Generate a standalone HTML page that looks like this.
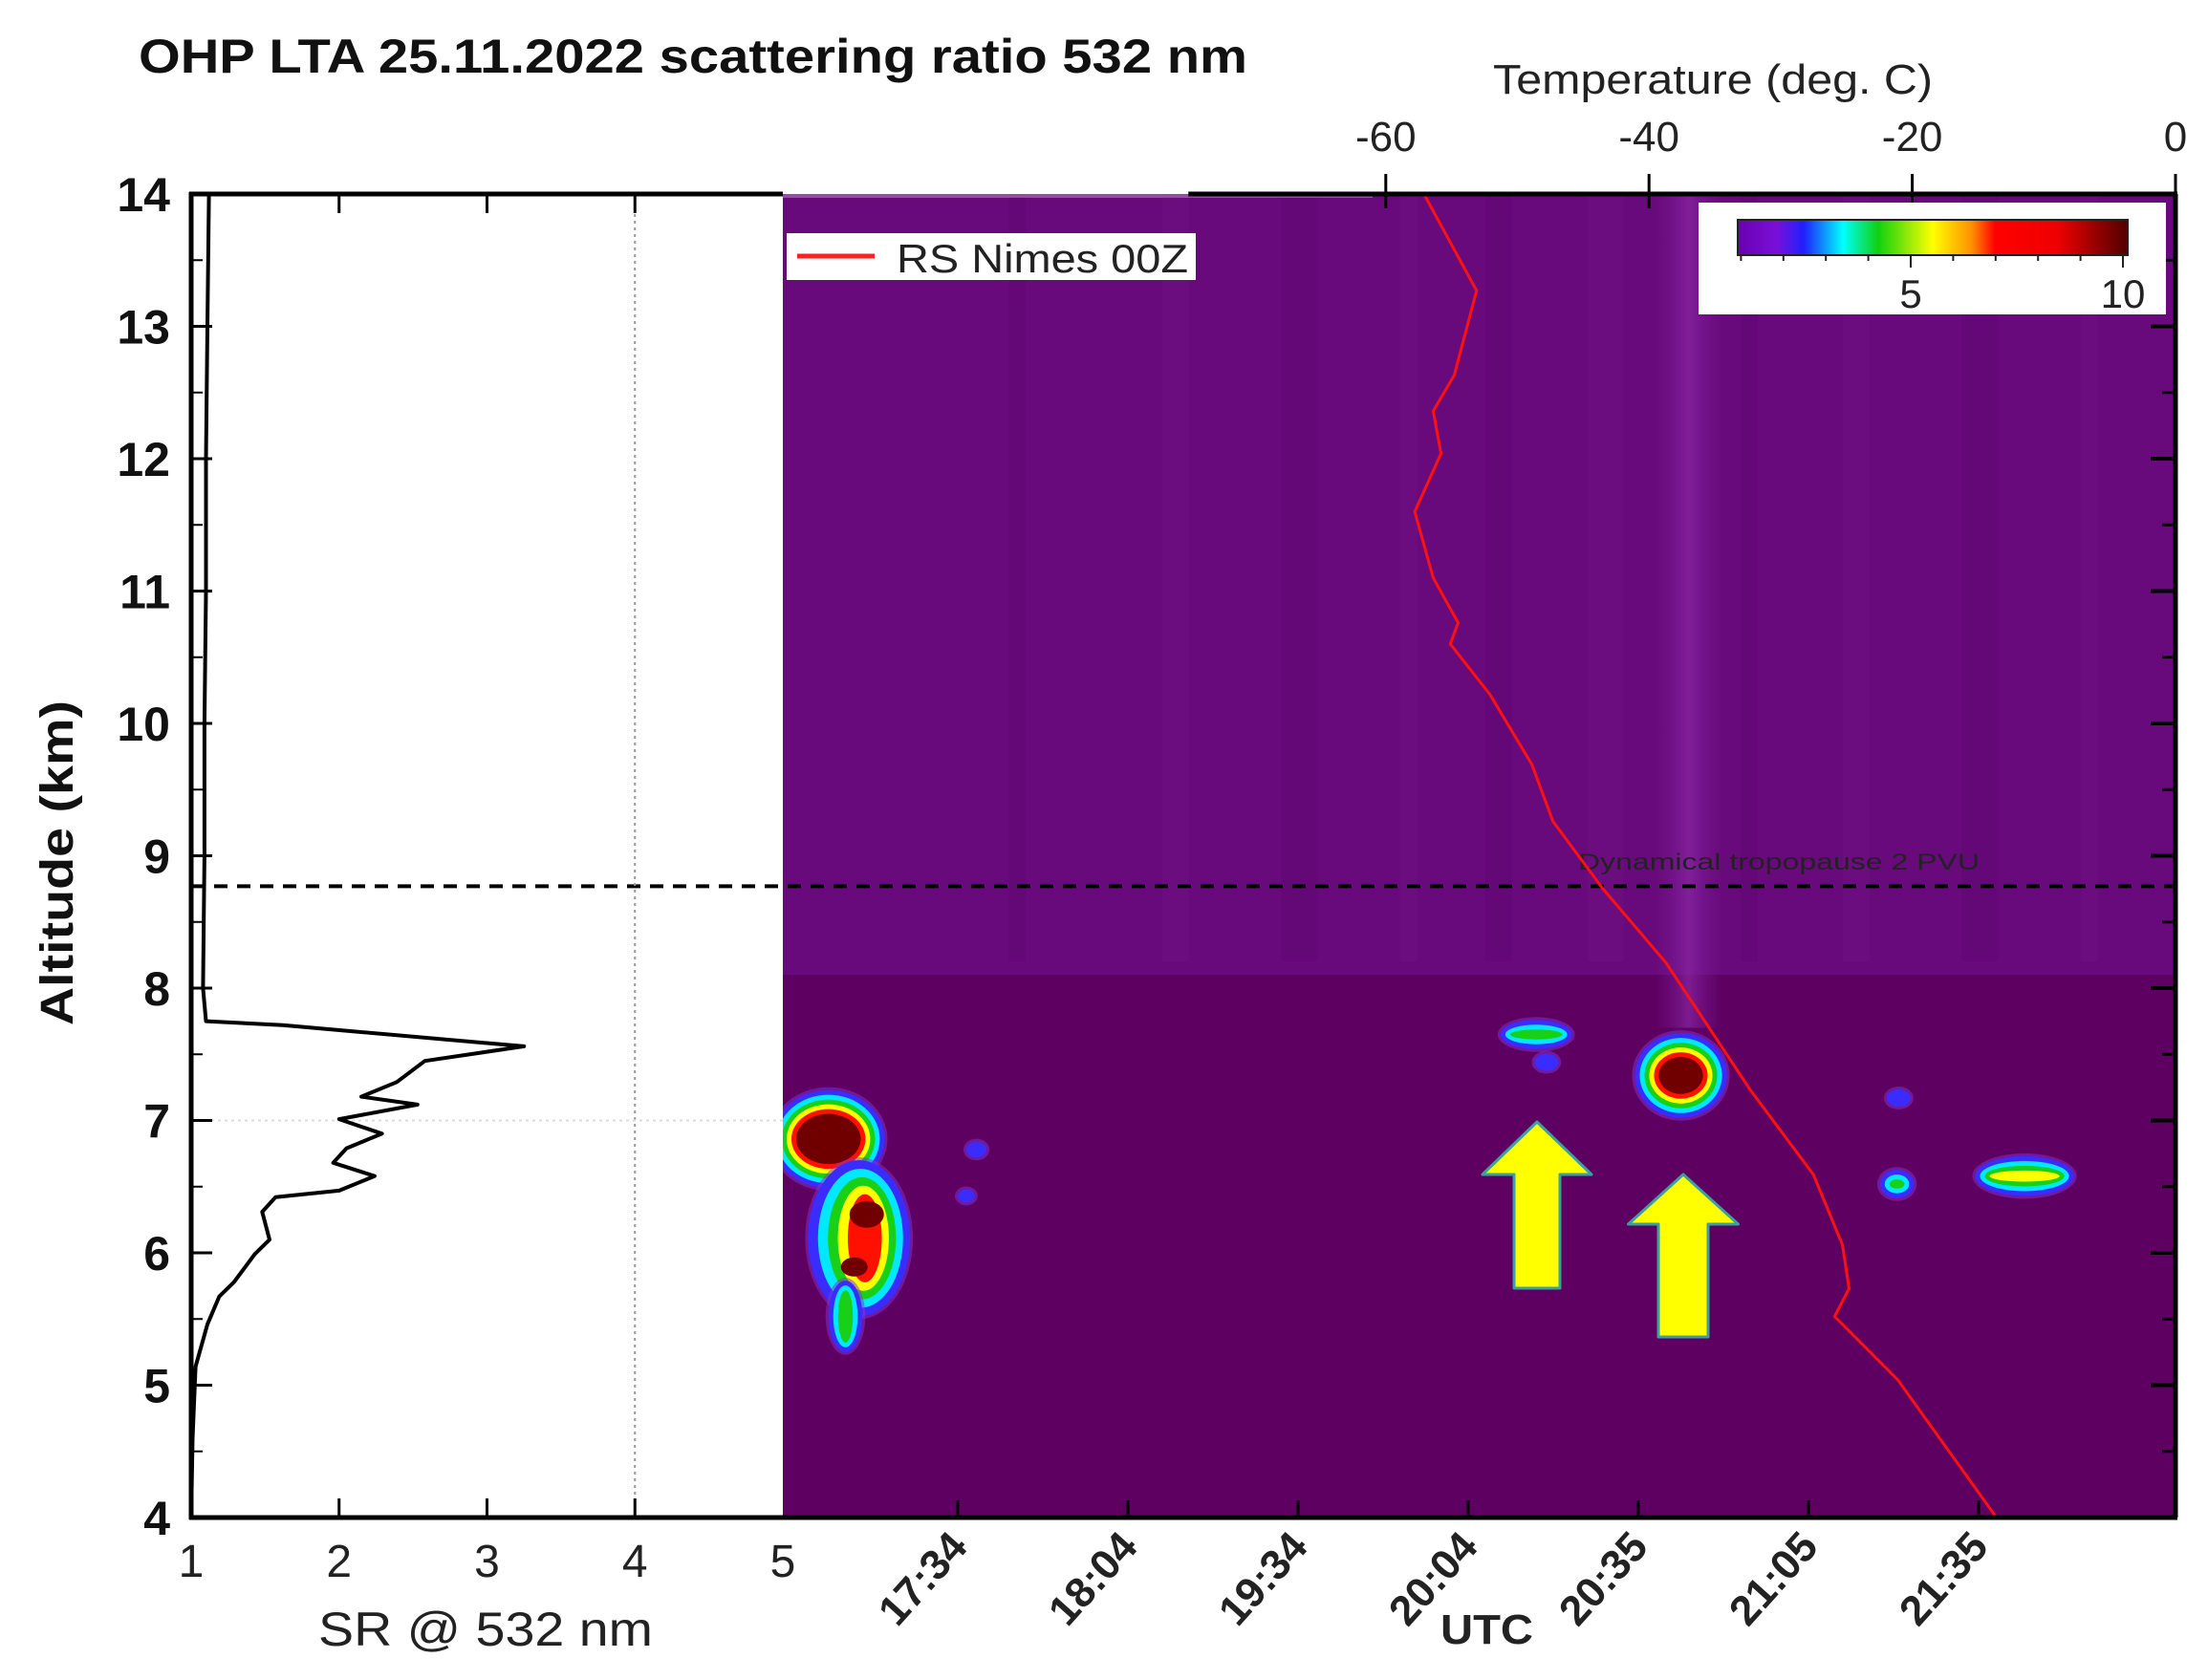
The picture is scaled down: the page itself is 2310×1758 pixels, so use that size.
<!DOCTYPE html>
<html><head><meta charset="utf-8"><title>OHP LTA scattering ratio</title>
<style>
html,body{margin:0;padding:0;background:#fff;}
svg{display:block;font-family:"Liberation Sans",Arial,sans-serif;}
</style></head>
<body>
<svg id="chart" width="2310" height="1758" viewBox="0 0 2310 1758" xmlns="http://www.w3.org/2000/svg">
<defs>
<linearGradient id="cbar" x1="0" x2="1" y1="0" y2="0">
<stop offset="0" stop-color="#6a00b0"/><stop offset="0.1" stop-color="#7a10d8"/>
<stop offset="0.17" stop-color="#2020ff"/><stop offset="0.27" stop-color="#00ffff"/>
<stop offset="0.36" stop-color="#10d010"/><stop offset="0.5" stop-color="#ffff00"/>
<stop offset="0.6" stop-color="#ff9000"/><stop offset="0.66" stop-color="#ff0000"/>
<stop offset="0.82" stop-color="#ee0000"/><stop offset="1" stop-color="#500000"/>
</linearGradient>
<linearGradient id="stripe" x1="0" x2="1"><stop offset="0" stop-color="#7c1a95" stop-opacity="0"/><stop offset="0.5" stop-color="#8a28a6" stop-opacity="0.7"/><stop offset="1" stop-color="#7c1a95" stop-opacity="0"/></linearGradient>
</defs>
<g id="root"></g>
</svg>
<script>
// ---- data ----
const altTicks = [4,5,6,7,8,9,10,11,12,13,14];
const srTicks = [1,2,3,4,5];
const tempTicks = [-60,-40,-20,0];
const timeLabels = ["17:34","18:04","19:34","20:04","20:35","21:05","21:35"];
const cbarTicks = [1,2,3,4,5,6,7,8,9,10];
const cbarLabels = [5,10];
const tropopauseKm = 8.77;
// SR profile: altitude (km) and scattering ratio
const srAlt = [14,13,12,11,10,9,8,7.75,7.72,7.56,7.45,7.29,7.18,7.12,7.01,6.9,6.79,6.68,6.58,6.47,6.42,6.31,6.1,5.99,5.78,5.67,5.46,5.14,4.6,4.0];
const srVal = [1.12,1.11,1.1,1.1,1.09,1.09,1.08,1.1,1.62,3.25,2.58,2.39,2.15,2.53,2.0,2.29,2.05,1.96,2.24,2.0,1.57,1.48,1.53,1.43,1.29,1.19,1.11,1.03,1.01,1.0];
// Radiosonde temperature profile
const tAlt = [14,13.27,12.63,12.36,12.04,11.6,11.1,10.76,10.6,10.22,9.69,9.26,8.75,8.19,7.23,6.59,6.06,5.73,5.52,5.04,4.0];
const tVal = [-57.1,-53.1,-54.8,-56.4,-55.8,-57.8,-56.4,-54.5,-55.1,-52.1,-48.9,-47.3,-43.5,-38.7,-32.3,-27.5,-25.3,-24.8,-25.9,-21.1,-13.6];
// Cloud features: time index, altitude km, half-width (time idx), half-height (km), max level (0 blue..5 dark red)
const cloudT = [-0.76,-0.58,-0.66,3.40,3.46,4.25,5.52,5.53,6.27,0.11,0.05];
const cloudZ = [6.86,6.11,5.52,7.65,7.44,7.34,6.52,7.17,6.58,6.78,6.43];
const cloudRx = [0.33,0.30,0.10,0.21,0.07,0.27,0.10,0.07,0.29,0.06,0.05];
const cloudRz = [0.37,0.59,0.27,0.11,0.065,0.32,0.107,0.065,0.15,0.06,0.05];
const cloudLvl = [5,4,2,5,0,5,4,0,4,0,0];

// ---- axes ----
const yA = km => 1588 - (km-4)*138.5;
const xSR = v => 200 + (v-1)*154.75;
const xT = t => 2276 + t*13.77;
const xTime = i => 1002 + i*178;
const HL = 819, HR = 2276, TOP = 203, BOT = 1588;

const NS = "http://www.w3.org/2000/svg";
const root = document.getElementById('root');
function el(tag, attrs, parent){ const e=document.createElementNS(NS,tag); for(const k in attrs) e.setAttribute(k,attrs[k]); (parent||root).appendChild(e); return e; }
function txt(s, attrs, parent){ const e=el('text',attrs,parent); e.textContent=s; return e; }

// Title
let t = txt("OHP LTA 25.11.2022 scattering ratio 532 nm",{x:145,y:76,'font-size':50,'font-weight':'bold',textLength:1160,lengthAdjust:'spacingAndGlyphs',fill:'#111'});
 

// Heatmap background
const hm = el('g',{});  
el('rect',{x:HL,y:TOP,width:HR-HL,height:BOT-TOP,fill:'#5d0062'},hm);
el('rect',{x:HL,y:TOP,width:HR-HL,height:yA(8.1)-TOP,fill:'#690a7c'},hm);
// faint vertical streaks
const streaks=[0.3,1.2,1.9,2.6,3.1,3.7,4.6,5.2,5.9,6.6];
streaks.forEach((s,i)=>{ el('rect',{x:xTime(s),y:TOP,width:18+(i%3)*10,height:yA(8.2)-TOP,fill:(i%2?'#741486':'#5f0570'),opacity:0.35},hm); });
el('rect',{x:xTime(4.1),y:TOP,width:70,height:yA(7.7)-TOP,fill:'url(#stripe)'},hm);
el('rect',{x:xTime(-1.03),y:TOP,width:xT(-61)-xTime(-1.03),height:4,fill:'#9a4aa8'},hm);

// Clouds
const lvlCol=['#3a2cff','#00e8ff','#18d018','#ffff00','#ff1000','#700000'];
for(let c=0;c<cloudT.length;c++){
  const cx=xTime(cloudT[c]), cy=yA(cloudZ[c]);
  const rx=cloudRx[c]*178, ry=cloudRz[c]*138.5;
  const g=el('g',{},hm);
  
  
  el('ellipse',{cx:cx,cy:cy,rx:rx+3,ry:ry+3,fill:'#8a30d0',opacity:0.5},g);
  const L=cloudLvl[c]; const step=(c===1)?Math.min(rx,ry)/6:5;
  for(let l=0;l<=L;l++){
    const w=rx-l*step, h=ry-l*step;
    if(w<=1||h<=1) break;
    const e=el('ellipse',{cx:cx+(c===1?l*1.5:0),cy:cy,rx:w,ry:h,fill:lvlCol[l]},g);
    
    
  }
  if(c===1){
    el('ellipse',{cx:cx+8,cy:cy-25,rx:18,ry:14,fill:'#700000'},g);
    el('ellipse',{cx:cx-5,cy:cy+30,rx:14,ry:10,fill:'#700000'},g);
  }
}

// Tropopause dashed line
const dl=el('line',{x1:200,x2:HR,y1:yA(tropopauseKm),y2:yA(tropopauseKm),stroke:'#000','stroke-width':4,'stroke-dasharray':'14 10'});
 
t=txt("Dynamical tropopause 2 PVU",{x:1651,y:910,'font-size':24,fill:'#222',textLength:420,lengthAdjust:'spacingAndGlyphs'});
 

// Temperature profile
let pts=tAlt.map((a,i)=>xT(tVal[i]).toFixed(1)+','+yA(a).toFixed(1)).join(' ');
const tl=el('polyline',{points:pts,fill:'none',stroke:'#ff1010','stroke-width':3});
 

// Arrows
function arrow(cx,top,headW,headH,shaftW,shaftH,name){
  const p=[[cx,top],[cx+headW/2,top+headH],[cx+shaftW/2,top+headH],[cx+shaftW/2,top+headH+shaftH],[cx-shaftW/2,top+headH+shaftH],[cx-shaftW/2,top+headH],[cx-headW/2,top+headH]].map(q=>q.join(',')).join(' ');
  const a=el('polygon',{points:p,fill:'#ffff00',stroke:'#3aa0a0','stroke-width':3,'stroke-linejoin':'round'});
   
}
arrow(1608,1174,114,55,48,119,'arrow-cloud-1');
arrow(1761,1229,115,52,52,118,'arrow-cloud-2');

// Left SR panel
const lp=el('g',{});  
el('rect',{x:200,y:TOP,width:HL-200,height:BOT-TOP,fill:'#fff'},lp);
el('line',{x1:200,x2:HL,y1:yA(tropopauseKm),y2:yA(tropopauseKm),stroke:'#000','stroke-width':4,'stroke-dasharray':'14 10'},lp);
el('line',{x1:xSR(4),x2:xSR(4),y1:TOP,y2:BOT,stroke:'#999','stroke-width':2,'stroke-dasharray':'3 4'},lp);
el('line',{x1:200,x2:HL,y1:yA(7),y2:yA(7),stroke:'#ddd','stroke-width':2,'stroke-dasharray':'3 4'},lp);
pts=srAlt.map((a,i)=>xSR(srVal[i]).toFixed(1)+','+yA(a).toFixed(1)).join(' ');
const sl=el('polyline',{points:pts,fill:'none',stroke:'#000','stroke-width':4,'stroke-linejoin':'round'},lp);
 

// Axes frames
el('line',{x1:200,x2:200,y1:TOP-2,y2:BOT+2,stroke:'#000','stroke-width':5});
el('line',{x1:198,x2:HL,y1:TOP,y2:TOP,stroke:'#000','stroke-width':5});
el('line',{x1:198,x2:HR+2,y1:BOT,y2:BOT,stroke:'#000','stroke-width':5});
el('line',{x1:xT(-75),x2:HR+2,y1:TOP,y2:TOP,stroke:'#000','stroke-width':5});
el('line',{x1:HR,x2:HR,y1:TOP,y2:BOT,stroke:'#000','stroke-width':5});

// Altitude ticks & labels
altTicks.forEach(k=>{
  const y=yA(k);
  el('line',{x1:200,x2:222,y1:y,y2:y,stroke:'#000','stroke-width':3});
  el('line',{x1:HR-26,x2:HR,y1:y,y2:y,stroke:'#000','stroke-width':4});
  if(k<14){ const ym=yA(k+0.5); el('line',{x1:200,x2:212,y1:ym,y2:ym,stroke:'#000','stroke-width':2}); el('line',{x1:HR-14,x2:HR,y1:ym,y2:ym,stroke:'#000','stroke-width':3}); }
  const l=txt(String(k),{x:178,y:y+18,'font-size':50,'font-weight':'bold','text-anchor':'end',fill:'#111'});
   
});
t=txt("Altitude (km)",{x:0,y:0,'font-size':48,'font-weight':'bold','text-anchor':'middle',fill:'#111',transform:'translate(76,903) rotate(-90)',textLength:340,lengthAdjust:'spacingAndGlyphs'});
 

// SR ticks
srTicks.forEach(v=>{
  const x=xSR(v);
  if(v>1&&v<5){ el('line',{x1:x,x2:x,y1:BOT,y2:BOT-20,stroke:'#000','stroke-width':3}); el('line',{x1:x,x2:x,y1:TOP,y2:TOP+20,stroke:'#000','stroke-width':3}); }
  const l=txt(String(v),{x:x,y:1650,'font-size':48,'text-anchor':'middle',fill:'#222'});
   
});
t=txt("SR @ 532 nm",{x:508,y:1722,'font-size':50,'text-anchor':'middle',fill:'#222',textLength:350,lengthAdjust:'spacingAndGlyphs'});
 

// Temperature axis
tempTicks.forEach(v=>{
  const x=xT(v);
  el('line',{x1:x,x2:x,y1:182,y2:218,stroke:'#000','stroke-width':3});
  const l=txt(String(v),{x:x,y:158,'font-size':44,'text-anchor':'middle',fill:'#222'});
   
});
t=txt("Temperature (deg. C)",{x:1562,y:98,'font-size':44,fill:'#222',textLength:460,lengthAdjust:'spacingAndGlyphs'});
 

// Time axis
timeLabels.forEach((s,i)=>{
  const x=xTime(i);
  el('line',{x1:x,x2:x,y1:BOT,y2:BOT-18,stroke:'#000','stroke-width':3});
  const l=txt(s,{x:0,y:0,'font-size':44,'font-weight':'bold','text-anchor':'end',fill:'#222',transform:`translate(${x+12},${BOT+32}) rotate(-48)`});
   
});
t=txt("UTC",{x:1507,y:1720,'font-size':44,'font-weight':'bold',fill:'#222',textLength:97,lengthAdjust:'spacingAndGlyphs'});
 

// Legend
const lg=el('g',{});  
el('rect',{x:823,y:244,width:428,height:49,fill:'#fff'},lg);
const le=el('line',{x1:834,x2:915,y1:268,y2:268,stroke:'#ff2020','stroke-width':5},lg);
 
t=txt("RS Nimes 00Z",{x:938,y:285,'font-size':42,fill:'#222',textLength:305,lengthAdjust:'spacingAndGlyphs'},lg);
 

// Colorbar
const cb=el('g',{});  
el('rect',{x:1777,y:212,width:489,height:117,fill:'#fff'},cb);
el('rect',{x:1818,y:230,width:408,height:37,fill:'url(#cbar)',stroke:'#222','stroke-width':2},cb);
const xC=v=>2221-(10-v)*44.4;
cbarTicks.forEach(v=>{ el('line',{x1:xC(v),x2:xC(v),y1:267,y2:(v===5||v===10)?280:273,stroke:'#222','stroke-width':2},cb); });
cbarLabels.forEach(v=>{ const l=txt(String(v),{x:xC(v),y:322,'font-size':42,'text-anchor':'middle',fill:'#222'},cb);   });
</script>
</body></html>
